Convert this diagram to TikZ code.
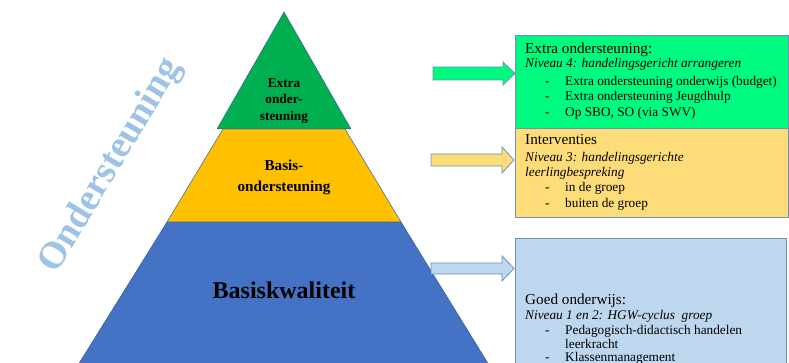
\documentclass[tikz,border=0pt]{standalone}
\usepackage{fontspec}
\setmainfont{Liberation Serif}
\definecolor{pgreen}{HTML}{00B050}
\definecolor{pyellow}{HTML}{FFC000}
\definecolor{pblue}{HTML}{4472C4}
\definecolor{pedge}{HTML}{3A5F95}
\definecolor{bgreen}{RGB}{0,250,128}
\definecolor{byellow}{HTML}{FFDC7A}
\definecolor{bblue}{HTML}{BDD7EE}
\definecolor{bedge}{HTML}{6F8FB8}
\definecolor{watermark}{HTML}{9DC3E6}
\tikzset{
  layer/.style={draw=pedge, line width=0.5pt, line join=round},
  infobox/.style={draw=bedge, line width=0.8pt},
  blockarrow/.style={draw=bedge, line width=0.8pt, line join=miter},
  head/.style={anchor=base west, inner sep=0pt, font=\fontsize{15.2}{17}\selectfont},
  sub/.style={anchor=base west, inner sep=0pt, font=\fontsize{13.3}{16}\selectfont\itshape},
  item/.style={anchor=base west, inner sep=0pt, font=\fontsize{13.3}{16}\selectfont},
  pyrtext/.style={align=center, inner sep=0pt, font=\bfseries},
}
\begin{document}
\begin{tikzpicture}[x=1pt,y=-1pt]
\useasboundingbox (0,0) rectangle (789,363);
\clip (0,0) rectangle (789,363);
% pyramid
\fill[pblue] (167,222) -- (401,222) -- (489,365) -- (78,365) -- cycle;
\draw[layer] (78,365) -- (167,222) -- (401,222) -- (489,365);
\filldraw[layer, fill=pyellow] (223,129) -- (345,129) -- (401,222) -- (167,222) -- cycle;
\filldraw[layer, fill=pgreen] (284,12) -- (351,129) -- (217,129) -- cycle;
\node[pyrtext, font=\fontsize{13.3}{16.5}\selectfont\bfseries] (extra) at (284,101) {Extra\\onder-\\steuning};
\node[pyrtext, font=\fontsize{15.2}{21}\selectfont\bfseries] (basis) at (284,177) {Basis-\\ondersteuning};
\node[pyrtext, font=\fontsize{24}{28}\selectfont\bfseries] (kwal) at (284,290) {Basiskwaliteit};
% watermark
\node[text=watermark, rotate=59, inner sep=0pt, font=\fontsize{38}{42}\selectfont\bfseries] (onder) at (111,166) {Ondersteuning};
% arrows
\filldraw[blockarrow, fill=bgreen] (433,67) -- (503,67) -- (503,62) -- (515,73.5) -- (503,85) -- (503,80) -- (433,80) -- cycle;
\filldraw[blockarrow, fill=byellow] (431,154) -- (502,154) -- (502,147) -- (514,160) -- (502,173) -- (502,166) -- (431,166) -- cycle;
\filldraw[blockarrow, fill=bblue] (431,263) -- (502,263) -- (502,256) -- (514,268.5) -- (502,281) -- (502,274) -- (431,274) -- cycle;
% boxes
\filldraw[infobox, fill=bgreen] (515,35) rectangle (788,128);
\filldraw[infobox, fill=byellow] (515,128) rectangle (788,217);
\filldraw[infobox, fill=bblue] (515,238) rectangle (786,380);
% green box text
\node[head] (g1) at (525,54) {Extra ondersteuning:};
\node[sub] (g2) at (525,68) {Niveau 4: handelingsgericht arrangeren};
\node[item] (gd1) at (545,86) {-};
\node[item] (g3) at (565,86) {Extra ondersteuning onderwijs (budget)};
\node[item] (gd2) at (545,101) {-};
\node[item] (g4) at (565,101) {Extra ondersteuning Jeugdhulp};
\node[item] (gd3) at (545,117) {-};
\node[item] (g5) at (565,117) {Op SBO, SO (via SWV)};
% yellow box text
\node[head] (y1) at (525,145) {Interventies};
\node[sub] (y2) at (525,162) {Niveau 3: handelingsgerichte};
\node[sub] (y3) at (525,177) {leerlingbespreking};
\node[item] (yd1) at (545,192) {-};
\node[item] (y4) at (565,192) {in de groep};
\node[item] (yd2) at (545,208) {-};
\node[item] (y5) at (565,208) {buiten de groep};
% blue box text
\node[head] (b1) at (525,304) {Goed onderwijs:};
\node[sub] (b2) at (525,319) {Niveau 1 en 2: HGW-cyclus\ \ groep};
\node[item] (bd1) at (545,334) {-};
\node[item] (b3) at (565,334) {Pedagogisch-didactisch handelen};
\node[item] (b4) at (565,348) {leerkracht};
\node[item] (bd2) at (545,361) {-};
\node[item] (b5) at (565,361) {Klassenmanagement};
\end{tikzpicture}
\end{document}
